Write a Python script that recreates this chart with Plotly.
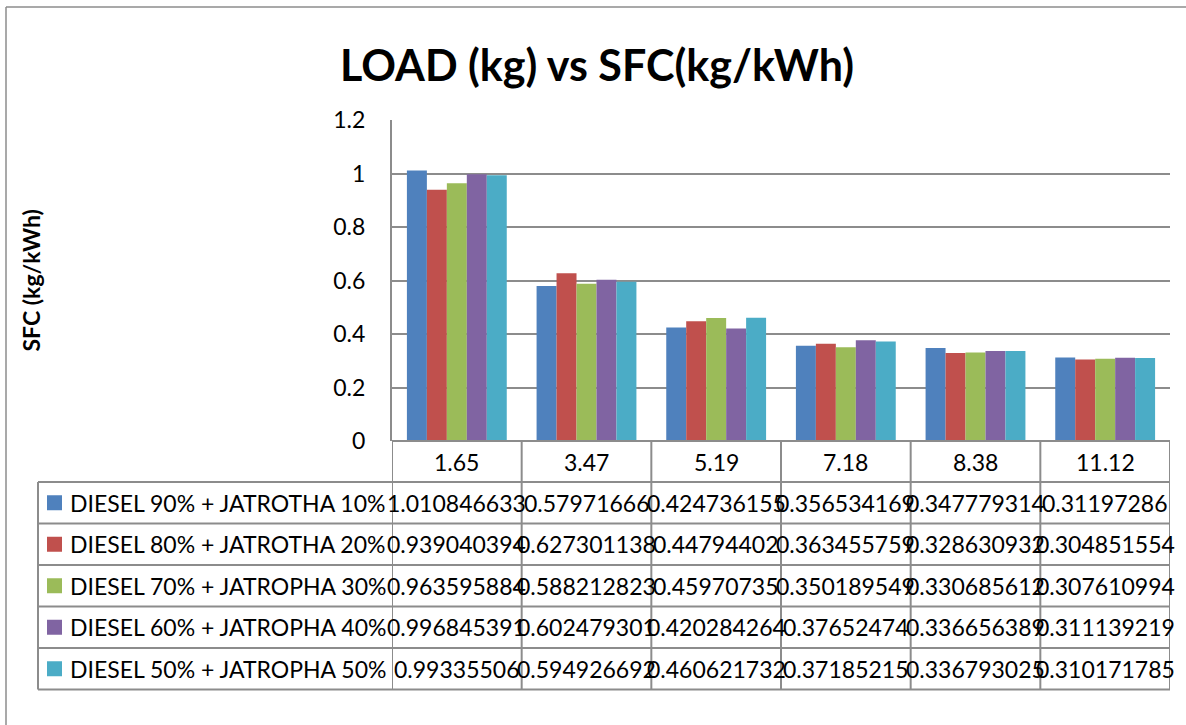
import plotly.graph_objects as go

W, H = 1186, 725

loads = ["1.65", "3.47", "5.19", "7.18", "8.38", "11.12"]
series_names = [
    "DIESEL 90% + JATROTHA 10%",
    "DIESEL 80% + JATROTHA 20%",
    "DIESEL 70% + JATROPHA 30%",
    "DIESEL 60% + JATROPHA 40%",
    "DIESEL 50% + JATROPHA 50%",
]
d90_j10 = [1.010846633, 0.57971666, 0.424736155, 0.356534169, 0.347779314, 0.31197286]
d80_j20 = [0.939040394, 0.627301138, 0.44794402, 0.363455759, 0.328630932, 0.304851554]
d70_j30 = [0.963595884, 0.588212823, 0.45970735, 0.350189549, 0.330685612, 0.307610994]
d60_j40 = [0.996845391, 0.602479301, 0.420284264, 0.37652474, 0.336656389, 0.311139219]
d50_j50 = [0.99335506, 0.594926692, 0.460621732, 0.37185215, 0.336793025, 0.310171785]
series_values = [d90_j10, d80_j20, d70_j30, d60_j40, d50_j50]
colors = ["#4F81BD", "#C0504D", "#9BBB59", "#8064A2", "#4BACC6"]
y_ticks = [0, 0.2, 0.4, 0.6, 0.8, 1, 1.2]

FONT = "Lato"
GRID = "#8c8c8c"


def px(x):
    return x / W


def py(y):
    return 1 - y / H


# layout geometry (pixels)
PL, PR, PT, PB = 392, 1170, 120, 441
HEAD_B = 482
ROW_H = 41.5
TABLE_L = 38

fig = go.Figure()
for name, vals, col in zip(series_names, series_values, colors):
    fig.add_trace(go.Bar(x=loads, y=vals, name=name,
                         marker=dict(color=col, line=dict(width=0)),
                         showlegend=False))

shapes = []
annotations = []

# outer chart frame (left and top)
shapes.append(dict(type="line", xref="paper", yref="paper", x0=px(6), x1=px(6), y0=py(7), y1=0,
                   line=dict(color=GRID, width=1.5)))
shapes.append(dict(type="line", xref="paper", yref="paper", x0=px(6), x1=1, y0=py(7), y1=py(7),
                   line=dict(color=GRID, width=1.5)))

# table horizontal lines
table_bottom = HEAD_B + ROW_H * len(series_names)
shapes.append(dict(type="line", xref="paper", yref="paper", x0=px(PL), x1=px(PR), y0=py(PB), y1=py(PB),
                   line=dict(color=GRID, width=2)))
for r in range(len(series_names) + 1):
    yy = HEAD_B + ROW_H * r
    shapes.append(dict(type="line", xref="paper", yref="paper", x0=px(TABLE_L), x1=px(PR), y0=py(yy), y1=py(yy),
                       line=dict(color=GRID, width=2)))
# table vertical lines
for i in range(len(loads) + 1):
    shapes.append(dict(type="line", xref="x", yref="paper", x0=i - 0.5, x1=i - 0.5, y0=py(PB), y1=py(table_bottom),
                       line=dict(color=GRID, width=2)))
shapes.append(dict(type="line", xref="paper", yref="paper", x0=px(TABLE_L), x1=px(TABLE_L), y0=py(HEAD_B),
                   y1=py(table_bottom), line=dict(color=GRID, width=2)))

# category header labels
for i, cat in enumerate(loads):
    annotations.append(dict(x=i, xref="x", y=py((PB + HEAD_B) / 2), yref="paper", text=cat,
                            showarrow=False, xanchor="center", yanchor="middle",
                            font=dict(family=FONT, size=23, color="black")))

# data rows
for r, (name, vals, col) in enumerate(zip(series_names, series_values, colors)):
    yc = HEAD_B + ROW_H * r + ROW_H / 2
    shapes.append(dict(type="rect", xref="paper", yref="paper", x0=px(47), x1=px(62), y0=py(yc - 7.5),
                       y1=py(yc + 7.5), fillcolor=col, line=dict(width=0)))
    annotations.append(dict(x=px(68), xref="paper", y=py(yc), yref="paper", text=name, showarrow=False,
                            xanchor="left", yanchor="middle", font=dict(family=FONT, size=23, color="black")))
    for i, v in enumerate(vals):
        annotations.append(dict(x=i, xref="x", y=py(yc), yref="paper", text=str(v), showarrow=False,
                                xanchor="center", yanchor="middle",
                                font=dict(family=FONT, size=23, color="black")))

# title
annotations.append(dict(x=px(597), y=py(64), xref="paper", yref="paper",
                        text="<b>LOAD (kg) vs SFC(kg/kWh)</b>", showarrow=False,
                        xanchor="center", yanchor="middle", font=dict(family=FONT, size=43, color="black")))
# y-axis title
annotations.append(dict(x=px(30), y=py((PT + PB) / 2), xref="paper", yref="paper",
                        text="<b>SFC (kg/kWh)</b>", showarrow=False, textangle=-90,
                        xanchor="center", yanchor="middle", font=dict(family=FONT, size=23, color="black")))

fig.update_layout(
    width=W, height=H,
    margin=dict(l=0, r=0, t=0, b=0, pad=0, autoexpand=False),
    paper_bgcolor="white", plot_bgcolor="white",
    barmode="group", bargap=0.23, bargroupgap=0,
    font=dict(family=FONT, color="black"),
    xaxis=dict(domain=[px(PL), px(PR)], type="category", range=[-0.5, 5.5], automargin=False,
               showticklabels=False, showgrid=False, zeroline=False, showline=False, ticks=""),
    yaxis=dict(domain=[py(PB), py(PT)], range=[0, 1.2], tickvals=y_ticks, automargin=False,
               ticktext=[f"{t:g}" for t in y_ticks],
               showgrid=True, gridcolor=GRID, gridwidth=1.5, zeroline=False,
               showline=True, linecolor=GRID, linewidth=2, ticks="",
               ticklabelstandoff=20, tickfont=dict(family=FONT, size=23, color="black")),
    shapes=shapes,
    annotations=annotations,
)

fig.write_html("out.html")
